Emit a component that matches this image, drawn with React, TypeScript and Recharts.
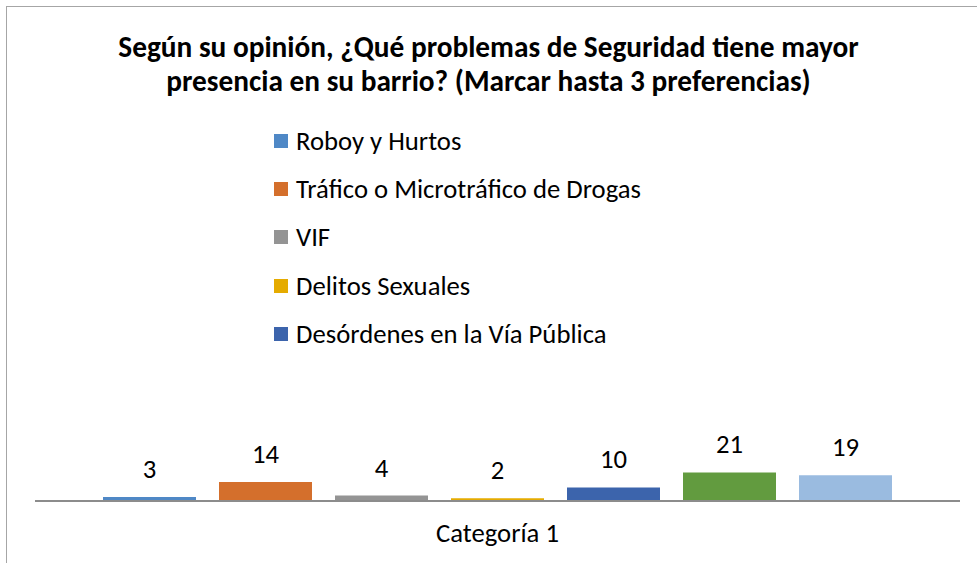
import { BarChart, Bar, XAxis, YAxis, LabelList } from "recharts";

const categories = ["Categoría 1"];
const seriesKeys = ["s1", "s2", "s3", "s4", "s5", "s6", "s7"];
const seriesValues = [3, 14, 4, 2, 10, 21, 19];
const legendLabels = [
  "Roboy y Hurtos",
  "Tráfico o Microtráfico de Drogas",
  "VIF",
  "Delitos Sexuales",
  "Desórdenes en la Vía Pública",
];
const colors = ["#4f88c6", "#d46f2c", "#949494", "#e5ab00", "#3c64ac", "#629b3f", "#9abbe0"];

const font = "Carlito, Calibri, 'Open Sans', sans-serif";
const textSize = 26.7;

const data = categories.map((c) => {
  const row: Record<string, string | number> = { name: c };
  seriesKeys.forEach((k, i) => {
    row[k] = seriesValues[i];
  });
  return row;
});

const CatTick = (props: any) => {
  const { x, y, payload } = props;
  return (
    <text x={x} y={y + 33} textAnchor="middle" fontSize={textSize} fill="#000" fontFamily={font}>
      {payload.value}
    </text>
  );
};

export default function App() {
  return (
    <div
      style={{
        position: "absolute",
        left: 0,
        top: 0,
        width: 977,
        height: 563,
        overflow: "hidden",
        background: "#fff",
        fontFamily: font,
      }}
    >
      <div
        style={{
          position: "absolute",
          left: 6,
          top: 6,
          width: 980,
          height: 600,
          borderLeft: "1px solid #a6a6a6",
          borderTop: "1px solid #a6a6a6",
        }}
      />
      <div
        style={{
          position: "absolute",
          left: 0,
          top: 30,
          width: 977,
          textAlign: "center",
          fontWeight: 700,
          fontSize: 29.3,
          lineHeight: "34px",
          color: "#000",
        }}
      >
        Según su opinión, ¿Qué problemas de Seguridad tiene mayor
        <br />
        presencia en su barrio? (Marcar hasta 3 preferencias)
      </div>
      <div style={{ position: "absolute", left: 274, top: 127 }}>
        {legendLabels.map((l, i) => (
          <div
            key={l}
            style={{
              position: "absolute",
              top: i * 48.2 - 10,
              left: 0,
              whiteSpace: "nowrap",
              display: "flex",
              alignItems: "center",
              height: 48,
              fontSize: textSize,
              color: "#000",
            }}
          >
            <span
              style={{ width: 14, height: 14, background: colors[i], marginRight: 8, display: "inline-block" }}
            />
            {l}
          </div>
        ))}
      </div>
      <BarChart
        width={977}
        height={563}
        data={data}
        margin={{ top: 467, right: 17, left: 35, bottom: 0 }}
        barCategoryGap={68}
        barGap={23}
        style={{ position: "absolute", left: 0, top: 0 }}
      >
        <XAxis
          dataKey="name"
          height={62}
          axisLine={{ stroke: "#8c8c8c", strokeWidth: 2 }}
          tickLine={false}
          tick={<CatTick />}
        />
        <YAxis hide domain={[0, 25]} />
        {seriesKeys.map((k, i) => (
          <Bar key={k} dataKey={k} fill={colors[i]} isAnimationActive={false}>
            <LabelList
              dataKey={k}
              position="top"
              offset={19}
              fontSize={textSize}
              fill="#000"
              fontFamily={font}
            />
          </Bar>
        ))}
      </BarChart>
    </div>
  );
}
